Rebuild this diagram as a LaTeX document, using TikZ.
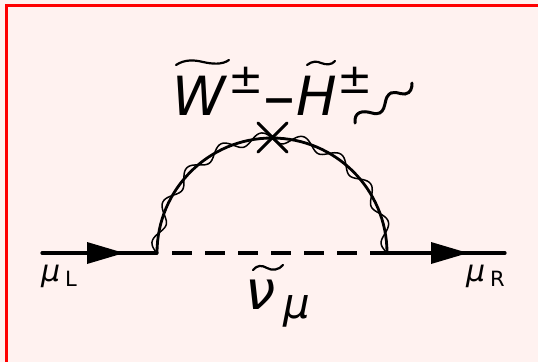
\documentclass[tikz,border=0pt]{standalone}
\usepackage{fontspec}
\setmainfont{DejaVu Sans}
\usetikzlibrary{arrows.meta}
\definecolor{bgpink}{RGB}{255,242,240}
\tikzset{
  px/.style={x=1pt,y=-1pt},
  fermion/.style={line width=3.2pt,black,line cap=round},
  scalar/.style={line width=3.2pt,black,dash pattern=on 20pt off 13pt},
  tip/.style={fill=black,draw=none},
  gaugino/.style={line width=2.8pt,black},
  wino/.style={line width=1.5pt,black},
  tildeaccent/.style={line width=2.2pt,black,line cap=round},
  lab/.style={inner sep=0pt,anchor=base west,black},
}
\begin{document}
\begin{tikzpicture}[px]
\useasboundingbox (0,0) rectangle (538,362);
\fill[bgpink] (0,0) rectangle (538,362);
\fill[red] (5,4) rectangle (538,6.7);
\fill[red] (5,4) rectangle (7.7,362);
\coordinate (inL) at (42,253);
\coordinate (v1) at (157,253);
\coordinate (v2) at (387,253);
\coordinate (outR) at (505,253);
\coordinate (dashA) at (172,253);
\coordinate (cross) at (272.5,137.5);
\draw[fermion] (inL) -- (v1);
\draw[fermion] (v2) -- (outR);
\fill[tip] (87,242) -- (124,253) -- (87,264) -- cycle;
\fill[tip] (431,242) -- (468,253) -- (431,264) -- cycle;
\draw[scalar] (dashA) -- (v2);
\draw[gaugino] (v1) arc[start angle=180,end angle=360,radius=115];
\draw[wino] plot[domain=180:360,samples=181,smooth,variable=\t]
  ({272+(115+5.5*sin(9*(\t-180)*2))*cos(\t)},{253+(115+5.5*sin(9*(\t-180)*2))*sin(\t)});
\draw[line width=3pt,line cap=round] ([shift={(-14.5,-14.5)}]cross) -- ([shift={(14.5,14.5)}]cross)
  ([shift={(14.5,-14.5)}]cross) -- ([shift={(-14.5,14.5)}]cross);
% legend wave
\draw[line width=3pt,line cap=round] (355,123) .. controls (354,112) and (362,110) .. (372,113)
  .. controls (386,117) and (384,102) .. (387,97) .. controls (392,88) and (400,95) .. (405,94)
  .. controls (411,93) and (412,88) .. (412,83);
% labels
\node[lab,font=\fontsize{54}{54}\selectfont\itshape] (wlab) at (172,115.5) {W};
\node[lab,font=\fontsize{42}{42}\selectfont] (pm1) at (228,93) {±};
\node[lab,font=\fontsize{64}{64}\selectfont] (dashlab) at (263,118.5) {–};
\node[lab,font=\fontsize{54}{54}\selectfont\itshape] (hlab) at (296,115.5) {H};
\node[lab,font=\fontsize{42}{42}\selectfont] (pm2) at (337,93) {±};
\draw[tildeaccent] (176,65) .. controls (185,59) and (195,60) .. (203,62) .. controls (212,64) and (222,65) .. (229,60);
\draw[tildeaccent] (307,65) .. controls (312,61) and (317,61) .. (321,63) .. controls (326,65) and (332,65) .. (335,61);
\node[lab,font=\fontsize{30}{30}\selectfont\itshape] (mu1) at (41,281) {μ};
\node[lab,font=\fontsize{21}{21}\selectfont] (subl) at (65,286) {L};
\node[lab,font=\fontsize{30}{30}\selectfont\itshape] (mu2) at (466,281) {μ};
\node[lab,font=\fontsize{21}{21}\selectfont] (subr) at (490,286) {R};
\node[lab,font=\fontsize{54}{54}\selectfont\itshape] (nu) at (245,309) {ν};
\node[lab,font=\fontsize{42}{42}\selectfont\itshape] (mu3) at (283,318) {μ};
\draw[tildeaccent] (253,270) .. controls (257,265) and (262,265) .. (267,268) .. controls (272,271) and (279,270) .. (283,265);
\end{tikzpicture}
\end{document}
